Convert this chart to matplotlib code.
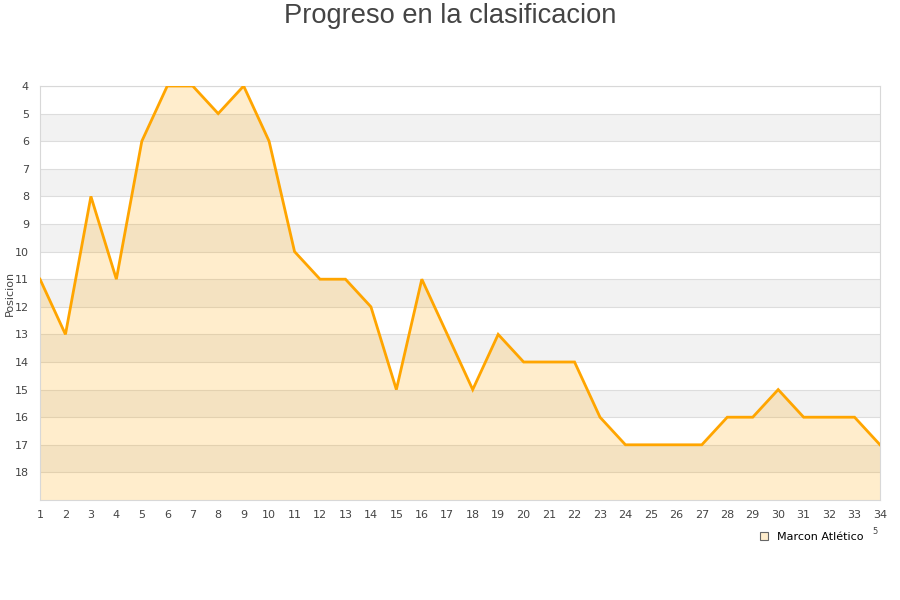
import matplotlib
matplotlib.use("Agg")
import matplotlib.pyplot as plt
from matplotlib.patches import Patch

# jornadas and league position of the team
jornadas = list(range(1, 35))
posicion = [11, 13, 8, 11, 6, 4, 4, 5, 4, 6,
            10, 11, 11, 12, 15, 11, 13, 15, 13, 14,
            14, 14, 16, 17, 17, 17, 17, 16, 16, 15,
            16, 16, 16, 17]
y_ticks = list(range(4, 19))
equipo = 'Marcon Atlético'

fig = plt.figure(figsize=(9, 6), dpi=100)
ax = fig.add_axes([40 / 900, 1 - 500 / 600, 840 / 900, 414 / 600])

y_top, y_bottom = 4, 19
ax.set_xlim(1, 34)
ax.set_ylim(y_bottom, y_top)

# alternate grey bands
for y in range(5, 18, 2):
    ax.axhspan(y, y + 1, color='#F2F2F2', zorder=0, lw=0)
for y in y_ticks:
    ax.axhline(y, color='#DDDDDD', lw=0.8, zorder=1)

ax.fill_between(jornadas, posicion, y_bottom, color='#FFA500', alpha=0.2, lw=0, zorder=2)
ax.plot(jornadas, posicion, color='#FFA500', lw=2.0, zorder=3, solid_joinstyle='miter')

ax.set_xticks(jornadas)
ax.set_yticks(y_ticks)
ax.tick_params(length=0, labelsize=8, colors='#444444', pad=7)
ax.tick_params(axis='y', pad=8)
for s in ax.spines.values():
    s.set_color('#D8D8D8')
    s.set_linewidth(0.8)

ax.set_ylabel('Posicion', fontsize=8, color='#444444')
ax.yaxis.set_label_coords(-25 / 840, 0.5)

fig.text(0.5, 1 - 16 / 600, 'Progreso en la clasificacion', ha='center', va='center',
         fontsize=19.6, color='#444444', family='Liberation Sans')
fig.text(875 / 900, 1 - 532 / 600, '5', ha='center', va='center', fontsize=6, color='#444444')

handle = Patch(facecolor='#FFEDCC', edgecolor='#666666', lw=0.8)
fig.legend([handle], [equipo], loc='center', bbox_to_anchor=(812 / 900, 1 - 537 / 600),
           frameon=False, fontsize=8, handlelength=0.7, handleheight=0.7, handletextpad=0.8)

fig.savefig('out.png', dpi=100)
